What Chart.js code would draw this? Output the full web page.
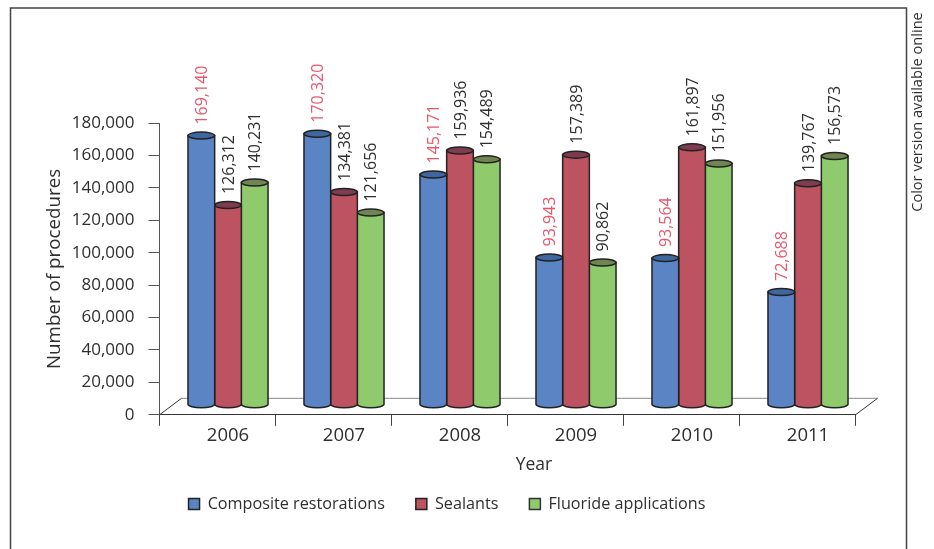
<!DOCTYPE html>
<html lang="en">
<head>
    <meta charset="UTF-8">
    <title>Number of procedures by year</title>
    <script src="https://cdn.jsdelivr.net/npm/chart.js"></script>
    <style>
        body { margin: 0; background: #fff; }
        canvas { display: block; }
    </style>
</head>
<body>
    <canvas id="chart" width="934" height="549"></canvas>

    <script>
        const years = ['2006', '2007', '2008', '2009', '2010', '2011'];
        const composite = [169140, 170320, 145171, 93943, 93564, 72688];
        const sealants = [126312, 134381, 159936, 157389, 161897, 139767];
        const fluoride = [140231, 121656, 154489, 90862, 151956, 156573];

        const FONT = "'Open Sans', sans-serif";
        const INK = '#2f2f2f';
        const topColors = ['#3f669f', '#7e3c50', '#6f8652'];
        const labelColors = ['#e8566a', INK, INK];

        // 3D look of the original: columns sit to the right of the category centre
        const shiftX = 10.5;
        const floorDepth = 17;
        const floorRun = 22;

        const cylinders = {
            id: 'cylinders',
            beforeDraw(chart) {
                const ctx = chart.ctx;
                ctx.save();
                // page frame, open at the bottom
                ctx.strokeStyle = '#444';
                ctx.lineWidth = 1.5;
                ctx.beginPath();
                ctx.moveTo(10.5, 549);
                ctx.lineTo(10.5, 8);
                ctx.lineTo(906.5, 8);
                ctx.lineTo(906.5, 549);
                ctx.stroke();
                // axis title sits off-centre in the original, chart.js can't do that
                const a = chart.chartArea;
                ctx.fillStyle = INK;
                ctx.font = '17.5px ' + FONT;
                ctx.textAlign = 'center';
                ctx.textBaseline = 'middle';
                ctx.fillText('Year', (a.left + a.right) / 2 + 26.5, 465);
                // side note
                ctx.translate(918, 112);
                ctx.rotate(-Math.PI / 2);
                ctx.font = '14.6px ' + FONT;
                ctx.fillText('Color version available online', 0, 0);
                ctx.restore();
            },
            beforeDatasetsDraw(chart) {
                const { ctx, chartArea: a } = chart;
                ctx.save();
                ctx.lineWidth = 1;
                ctx.strokeStyle = '#888';
                ctx.beginPath();
                ctx.moveTo(a.left + floorRun, a.bottom - floorDepth + 0.5);
                ctx.lineTo(a.right + floorRun, a.bottom - floorDepth + 0.5);
                ctx.stroke();
                ctx.strokeStyle = '#333';
                ctx.beginPath();
                ctx.moveTo(a.left, a.bottom);
                ctx.lineTo(a.left + floorRun, a.bottom - floorDepth + 0.5);
                ctx.moveTo(a.right, a.bottom);
                ctx.lineTo(a.right + floorRun, a.bottom - floorDepth + 0.5);
                ctx.stroke();
                ctx.restore();
            },
            beforeDatasetDraw(chart, args) {
                const ctx = chart.ctx;
                const i = args.index;
                const ds = chart.data.datasets[i];
                ctx.save();
                ctx.lineWidth = 1.5;
                ctx.strokeStyle = '#222';
                args.meta.data.forEach((bar, k) => {
                    const cx = bar.x + shiftX;
                    const rx = bar.width / 2;
                    const ry = 3.5;
                    const top = bar.y - 5;
                    const bottom = bar.base - 10;
                    ctx.fillStyle = ds.backgroundColor;
                    ctx.beginPath();
                    ctx.moveTo(cx - rx, top);
                    ctx.lineTo(cx - rx, bottom);
                    ctx.ellipse(cx, bottom, rx, ry, 0, Math.PI, 0, true);
                    ctx.lineTo(cx + rx, top);
                    ctx.closePath();
                    ctx.fill();
                    ctx.stroke();
                    ctx.fillStyle = topColors[i];
                    ctx.beginPath();
                    ctx.ellipse(cx, top, rx, ry, 0, 0, Math.PI * 2);
                    ctx.fill();
                    ctx.stroke();

                    ctx.save();
                    ctx.translate(cx + 1, top - 11);
                    ctx.rotate(-Math.PI / 2);
                    ctx.fillStyle = labelColors[i];
                    ctx.font = '16px ' + FONT;
                    ctx.textAlign = 'left';
                    ctx.textBaseline = 'middle';
                    ctx.fillText(ds.data[k].toLocaleString('en-US'), 0, 0);
                    ctx.restore();
                });
                ctx.restore();
                return false;
            }
        };

        new Chart(document.getElementById('chart'), {
            type: 'bar',
            data: {
                labels: years,
                datasets: [
                    { label: 'Composite restorations', data: composite, backgroundColor: '#5b84c4', borderColor: '#222', borderWidth: 1.5 },
                    { label: 'Sealants', data: sealants, backgroundColor: '#bd5360', borderColor: '#222', borderWidth: 1.5 },
                    { label: 'Fluoride applications', data: fluoride, backgroundColor: '#8fca6d', borderColor: '#333', borderWidth: 1.5 }
                ]
            },
            options: {
                responsive: false,
                animation: false,
                categoryPercentage: 0.69,
                barPercentage: 1,
                layout: { padding: { left: 0, right: 40, top: 123, bottom: 27 } },
                scales: {
                    x: {
                        offset: true,
                        afterFit: s => { s.height = 50; },
                        grid: { offset: true, drawOnChartArea: false, color: '#444', tickLength: 11 },
                        border: { color: '#333' },
                        ticks: { color: INK, font: { family: FONT, size: 18.5 }, labelOffset: shiftX, padding: -1, maxRotation: 0 }
                    },
                    y: {
                        min: 0,
                        max: 180000,
                        afterFit: s => { s.width = 159.5; },
                        grid: { drawOnChartArea: false, color: '#555', tickLength: 11 },
                        border: { color: '#555' },
                        ticks: {
                            stepSize: 20000,
                            color: INK,
                            padding: 14,
                            font: { family: FONT, size: 17 },
                            callback: v => v.toLocaleString('en-US')
                        },
                        title: { display: true, text: 'Number of procedures', color: INK, font: { family: FONT, size: 18.8 }, padding: { top: 43, bottom: 0 } }
                    },
                    // empty axis keeps the plot clear of the right margin so the legend stays centred
                    pad: {
                        position: 'right',
                        afterFit: s => { s.width = 38.5; },
                        grid: { display: false },
                        border: { display: false },
                        ticks: { display: false }
                    }
                },
                plugins: {
                    tooltip: { enabled: false },
                    legend: {
                        position: 'bottom',
                        labels: {
                            boxWidth: 11,
                            boxHeight: 11,
                            padding: 31,
                            color: INK,
                            font: { family: FONT, size: 16.2 }
                        }
                    }
                }
            },
            plugins: [cylinders]
        });
    </script>
</body>
</html>
